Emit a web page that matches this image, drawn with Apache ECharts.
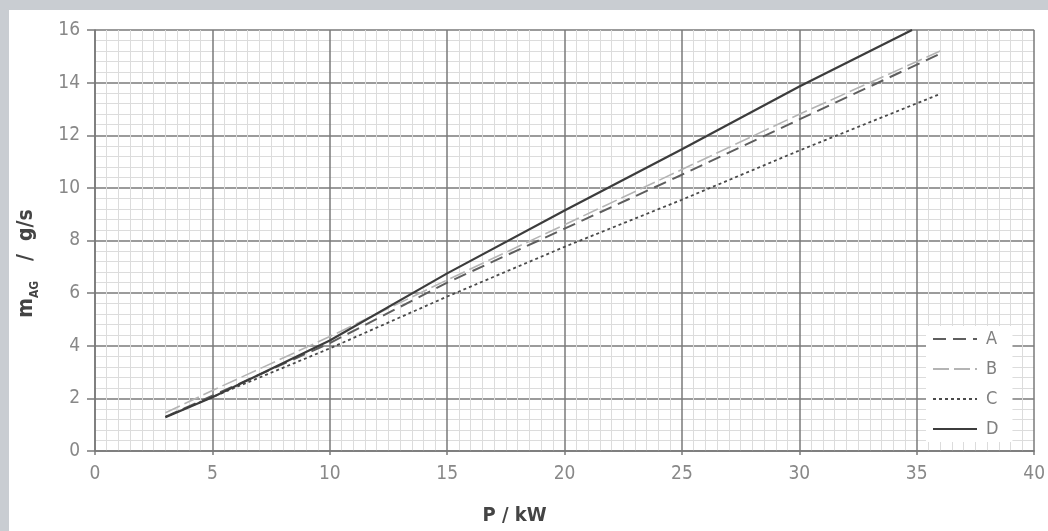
<!DOCTYPE html>
<html>
<head>
<meta charset="utf-8">
<script src="https://cdn.jsdelivr.net/npm/echarts@6/dist/echarts.min.js"></script>
<style>
  html, body { margin: 0; padding: 0; background: #fff; }
  #main { width: 1048px; height: 531px; }
</style>
</head>
<body>
<div id="main"></div>
<script>
// data: [P in kW, mass flow in g/s]
var seriesNames = ['A', 'B', 'C', 'D'];
var dataA = [[3, 1.3], [5, 2.1], [10, 4.1], [15, 6.4], [20, 8.45], [25, 10.5], [30, 12.6], [36, 15.1]];
var dataB = [[3, 1.45], [5, 2.3], [10, 4.35], [15, 6.5], [20, 8.6], [25, 10.7], [30, 12.8], [36, 15.2]];
var dataC = [[3, 1.3], [5, 2.05], [10, 3.9], [15, 5.87], [20, 7.76], [25, 9.55], [30, 11.42], [36, 13.57]];
var dataD = [[3, 1.28], [5, 2.04], [10, 4.2], [15, 6.75], [20, 9.14], [25, 11.47], [30, 13.85], [34.8, 16]];

var font = "'DejaVu Sans Condensed', 'Liberation Sans Narrow', sans-serif";
var tickColor = '#7a7a7a';

var myChart = echarts.init(document.getElementById('main'));

function lineSeries(name, data, color, width, dash) {
  return {
    name: name,
    type: 'line',
    data: data,
    symbol: 'none',
    lineStyle: { color: color, width: width, type: dash },
    itemStyle: { color: color },
    emphasis: { disabled: true }
  };
}

var option = {
  backgroundColor: '#fff',
  animation: false,
  graphic: [
    { type: 'rect', shape: { x: 0, y: 0, width: 1048, height: 10 }, style: { fill: '#c9cdd2' }, z: -10 },
    { type: 'rect', shape: { x: 0, y: 0, width: 9, height: 531 }, style: { fill: '#c9cdd2' }, z: -10 }
  ],
  grid: { left: 95, right: 13, top: 30, bottom: 77 },
  legend: {
    data: seriesNames,
    orient: 'vertical',
    left: 926,
    top: 326,
    itemWidth: 44,
    itemHeight: 14,
    itemGap: 12,
    backgroundColor: '#fff',
    padding: [4, 14, 4, 6],
    itemStyle: { opacity: 0 },
    textStyle: { fontFamily: font, fontSize: 18, color: '#808080', padding: [0, 0, 0, 4] }
  },
  xAxis: {
    type: 'value',
    min: 0,
    max: 40,
    interval: 5,
    name: 'P / kW',
    nameLocation: 'middle',
    nameGap: 55,
    nameTextStyle: { fontFamily: font, fontSize: 20, fontWeight: 'bold', color: '#444', padding: [0, 100, 0, 0] },
    axisLine: { show: true, lineStyle: { color: '#777', width: 1.5 } },
    axisTick: { show: true, length: 4, lineStyle: { color: tickColor, width: 1.5 } },
    axisLabel: { margin: 14, fontFamily: font, fontSize: 19, color: '#888' },
    splitLine: { show: true, lineStyle: { color: tickColor, width: 1.5 } },
    minorTick: { show: false, splitNumber: 10 },
    minorSplitLine: { show: true, lineStyle: { color: '#dcdcdc', width: 1 } }
  },
  yAxis: {
    type: 'value',
    min: 0,
    max: 16,
    interval: 2,
    name: '{m|m}{sub|AG}{m|   /  g/s}',
    nameLocation: 'middle',
    nameGap: 58,
    nameTextStyle: {
      padding: [0, 46, 0, 0],
      rich: {
        m: { fontFamily: font, fontSize: 21, fontWeight: 'bold', color: '#444' },
        sub: { fontFamily: font, fontSize: 12, fontWeight: 'bold', color: '#444', verticalAlign: 'bottom', padding: [0, 0, -4, 0] }
      }
    },
    axisLine: { show: true, lineStyle: { color: '#777', width: 1.5 } },
    axisTick: { show: true, inside: false, length: 8, lineStyle: { color: tickColor, width: 1.5 } },
    axisLabel: { margin: 15, fontFamily: font, fontSize: 19, color: '#888' },
    splitLine: { show: true, lineStyle: { color: tickColor, width: 1.5 } },
    minorTick: { show: false, splitNumber: 5 },
    minorSplitLine: { show: true, lineStyle: { color: '#dcdcdc', width: 1 } }
  },
  series: [
    lineSeries('A', dataA, '#5e5e5e', 2, [13, 7]),
    lineSeries('B', dataB, '#b4b4b4', 1.6, [16, 5]),
    lineSeries('C', dataC, '#4a4a4a', 1.8, [3, 3]),
    lineSeries('D', dataD, '#3c3c3c', 2.2, 'solid')
  ]
};

myChart.setOption(option);
</script>
</body>
</html>
